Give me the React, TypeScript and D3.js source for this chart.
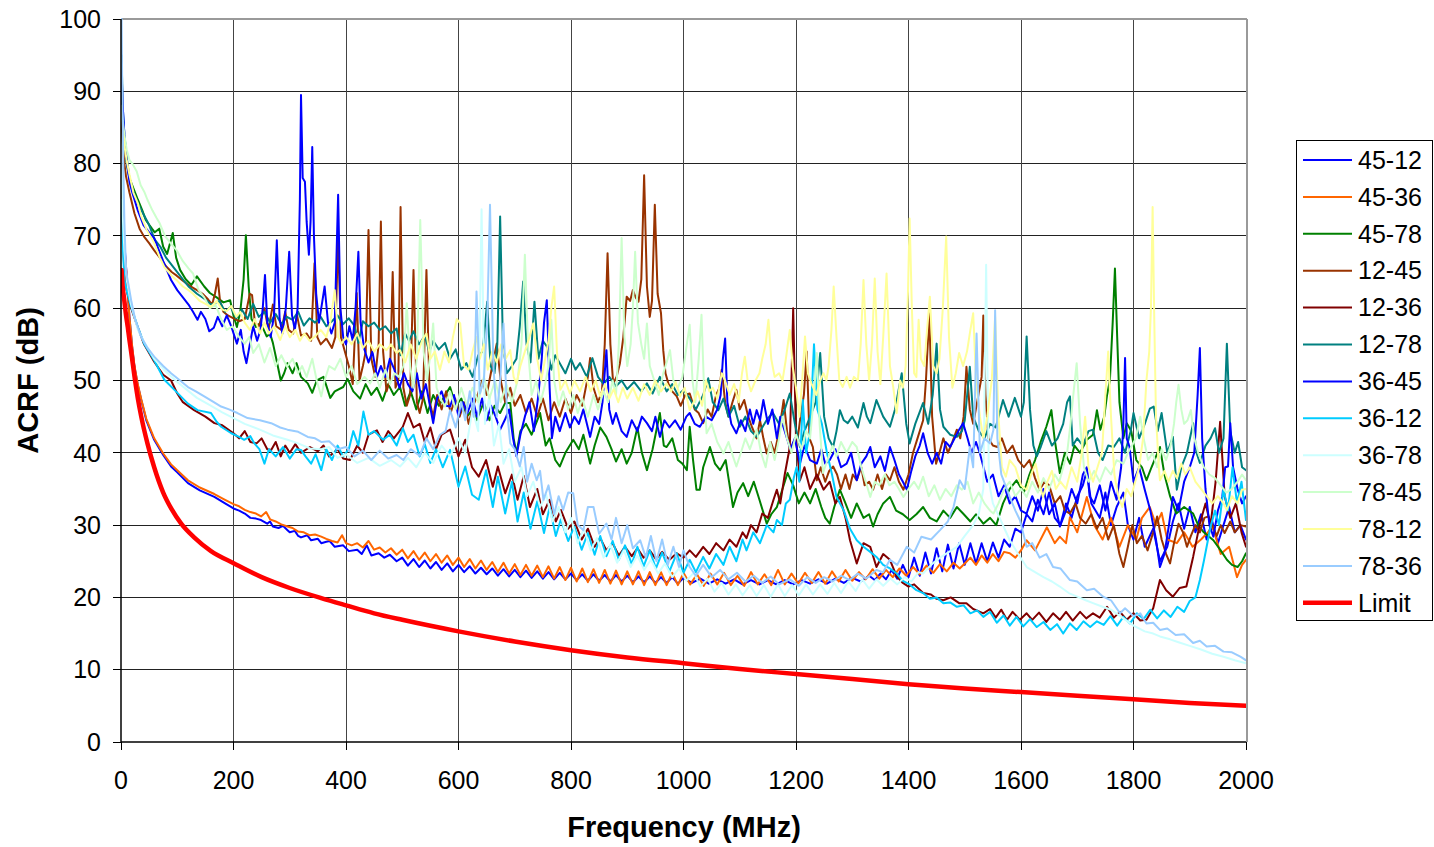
import React, { useEffect } from 'react';
import * as d3 from 'd3';

const W = 1434;
const H = 847;
const PLOT = { left: 121, right: 1246, top: 19, bottom: 742 };

const X_TICKS = [0, 200, 400, 600, 800, 1000, 1200, 1400, 1600, 1800, 2000];
const Y_TICKS = [0, 10, 20, 30, 40, 50, 60, 70, 80, 90, 100];

// each array: frequency (MHz), ACRF (dB) pairs
const s4512 = [1,77, 3,72, 6,69, 9,65.7, 12,62, 15,58.8, 20,54.5, 24,51.9, 30,49.3, 36,47.3, 45,44.5, 59,41.8, 75,39.7, 89,38.1, 100,37.3, 119,35.8, 140,34.8, 166,33.9, 185,33, 200,32.3, 210,32, 220,31.6, 230,31, 240,30.9, 249,30.7, 260,30.2, 265,30.5, 270,29.8, 280,29.6, 288,29.9, 296,29.3, 300,29, 309,29.2, 315,28.5, 320,28.3, 331,28.6, 338,27.9, 350,28.1, 356,27.5, 365,27.7, 371,27.8, 380,27, 395,27.2, 405,26.4, 420,26.6, 428,26, 437,27.2, 445,25.8, 458,26.1, 468,25.5, 478,25.9, 490,25, 500,25.5, 510,24.4, 520,25.3, 530,24.2, 540,25.1, 550,24, 560,24.9, 570,23.8, 580,24.7, 590,23.6, 600,24.5, 610,23.5, 620,24.3, 630,23.3, 640,24.1, 650,23.2, 660,24, 670,23, 680,23.9, 690,22.9, 700,23.8, 710,22.8, 720,23.7, 730,22.7, 740,23.6, 750,22.6, 760,23.5, 770,22.5, 780,23.4, 790,22.5, 800,23.3, 810,22.4, 820,23.2, 830,22.3, 840,23.2, 850,22.3, 860,23.1, 870,22.2, 880,23.1, 890,22.2, 900,23, 910,22.1, 920,22.9, 930,22.1, 940,22.9, 950,22, 960,22.8, 970,22, 980,22.8, 990,21.9, 1000,22.7, 1015,22, 1030,22.6, 1045,21.9, 1060,22.5, 1075,21.9, 1090,22.5, 1105,21.8, 1120,22.4, 1135,21.8, 1150,22.4, 1165,21.8, 1180,22.4, 1195,21.8, 1210,22.4, 1225,21.9, 1240,22.5, 1255,21.9, 1270,22.6, 1285,22, 1300,22.7, 1315,22.2, 1330,23, 1340,22.4, 1350,23.3, 1360,22.5, 1370,23.8, 1380,22.6, 1390,24.5, 1400,22.8, 1410,25.5, 1420,23, 1430,26.2, 1440,23.3, 1450,26.8, 1460,23.6, 1470,27.3, 1480,24, 1490,27.5, 1500,24.5, 1510,27.5, 1520,24.7, 1530,27.5, 1540,25, 1550,27.6, 1560,25.5, 1570,28, 1580,27, 1590,29.5, 1600,29, 1610,31.5, 1620,30.5, 1630,33.5, 1640,31.5, 1650,34.5, 1660,31, 1670,30, 1680,33, 1690,31, 1700,34, 1710,35.5, 1717,37.5, 1725,33, 1740,31, 1750,34.5, 1760,30, 1770,32.5, 1782,34.5, 1790,30, 1800,28, 1810,31, 1820,27, 1835,29.5, 1847,25, 1860,27, 1870,30.5, 1880,33, 1890,29.5, 1900,32.5, 1910,29, 1920,31.5, 1930,28, 1940,30.5, 1950,27.5, 1960,30, 1970,32.5, 1980,29, 1990,30, 2000,28];

const s4536 = [1,76, 3,71, 6,68.5, 9,65.5, 12,61.8, 15,58.8, 20,54.6, 24,52, 30,49.4, 36,47.4, 45,44.7, 59,42, 75,39.9, 89,38.4, 100,37.6, 119,36.2, 140,35.2, 166,34.3, 185,33.5, 200,32.9, 210,32.6, 220,32.1, 230,31.8, 240,31.6, 249,31.2, 258,31.8, 265,30.8, 275,30.5, 285,30.1, 296,29.8, 305,29.6, 315,29.1, 325,29, 335,28.6, 345,28.7, 356,28.4, 365,28.1, 375,27.8, 385,27.6, 393,28.6, 400,27.5, 410,27.2, 420,27.5, 430,26.9, 440,27.8, 450,26.6, 460,26.9, 470,26.2, 480,26.8, 490,25.9, 500,26.6, 510,25.4, 520,26.4, 530,25.2, 540,26.2, 550,25, 560,26, 570,24.8, 580,25.8, 590,24.5, 600,25.5, 610,24.2, 620,25.3, 630,24, 640,25.1, 650,23.8, 660,24.9, 670,23.5, 680,24.8, 690,23.3, 700,24.6, 710,23.1, 720,24.5, 730,23, 740,24.4, 750,22.8, 760,24.3, 770,22.6, 780,24.2, 790,22.4, 800,24.1, 810,22.2, 820,24, 830,22.1, 840,23.9, 850,22, 860,23.8, 870,21.9, 880,23.7, 890,21.8, 900,23.6, 910,21.8, 920,23.6, 930,21.7, 940,23.5, 950,21.7, 960,23.5, 970,21.7, 980,23.4, 990,21.7, 1000,23.4, 1012,21.8, 1024,23.2, 1036,21.6, 1048,23.3, 1060,21.8, 1072,23.4, 1084,21.7, 1096,23, 1108,21.6, 1120,23.5, 1132,21.8, 1144,23.2, 1156,21.7, 1168,23.8, 1180,21.8, 1192,23.3, 1204,21.9, 1216,23.4, 1228,22, 1240,23.5, 1252,21.9, 1264,23.6, 1276,22.2, 1288,23.8, 1300,22.3, 1312,23.5, 1324,22.5, 1336,23.9, 1348,22.6, 1360,23.8, 1372,22.8, 1384,24, 1396,23, 1408,24.2, 1420,23.2, 1432,24.4, 1444,23.4, 1456,24.6, 1468,23.6, 1480,24.8, 1491,24, 1500,24.7, 1510,25.5, 1520,24.5, 1530,25.8, 1540,24.8, 1550,26, 1560,25, 1570,26.3, 1580,26.1, 1590,25.5, 1600,26.5, 1610,27.9, 1625,26.5, 1646,29.7, 1660,27.5, 1669,28.4, 1680,27.5, 1687,31.1, 1700,29, 1717,33.9, 1730,30, 1745,28, 1760,31, 1775,27, 1790,30, 1805,28, 1815,31, 1829,32.5, 1840,30, 1850,31.7, 1860,28, 1877,27.5, 1890,29, 1905,27, 1920,28, 1941,29.7, 1955,26, 1970,27, 1984,22.8, 1993,24.5, 2000,25.2];

const s4578 = [1,90, 3,86, 6,83, 10,80, 15,78, 20,77, 30,75, 38,73.5, 44,72.2, 55,71, 60,70.5, 68,71, 75,68.5, 82,67.5, 92,70.4, 98,67, 105,65.3, 115,64, 125,63.2, 135,64.4, 148,63, 158,62.1, 170,61.5, 182,60.8, 194,61.1, 200,59, 206,57.4, 212,59.5, 218,64, 222,70.1, 227,63, 232,58.5, 240,57.4, 248,58, 259,56.1, 265,56.5, 270,55.2, 276,53, 284,50, 290,51, 296,52.4, 305,51, 312,52.4, 320,50.5, 332,49.6, 340,48.3, 348,50, 360,50.5, 372,47.6, 380,48.5, 395,49.1, 403,50.2, 413,48.5, 425,47.5, 435,49.5, 445,48, 455,49, 465,47.2, 475,49.5, 485,48, 496,49.1, 505,46.5, 515,48.5, 525,46, 535,48.5, 545,45.5, 555,48, 565,46.5, 575,47.8, 585,49.1, 595,46.5, 605,47.5, 615,45, 625,46, 632,44.5, 645,47, 655,44.5, 664,46.5, 674,45.5, 683,46.9, 692,46.9, 698,42, 703,39.9, 710,43, 720,44, 730,42.5, 745,45.5, 755,41, 762,42, 772,39, 780,38.1, 790,40, 804,41.8, 814,40.5, 822,42.5, 834,38.5, 842,41, 852,43.5, 863,42.2, 872,40.5, 880,38.8, 890,40.5, 899,38.5, 908,40, 918,43.5, 926,40, 935,37.6, 945,40.5, 958,45.5, 965,41, 970,40.8, 980,42, 990,39, 998,38.5, 1006,37.6, 1011,43.6, 1017,39, 1023,34.9, 1029,34.9, 1035,38, 1047,40.8, 1056,38.5, 1065,37.6, 1075,39, 1082,35.5, 1088,32.5, 1096,34.5, 1106,35.8, 1115,34, 1125,36, 1135,33.5, 1148,30.2, 1156,31.5, 1166,32.5, 1176,35, 1185,37.2, 1195,35.5, 1205,33, 1215,34.5, 1225,33, 1235,35, 1245,32.5, 1252,31, 1260,30.2, 1268,32.5, 1278,34.9, 1288,33, 1298,31, 1308,33, 1320,31, 1330,31.5, 1337,29.8, 1345,31.5, 1355,33, 1367,33.9, 1378,32, 1390,31.5, 1402,30.7, 1414,31.5, 1426,32.5, 1438,31, 1450,30.5, 1462,32, 1474,31, 1486,32.5, 1497,31.6, 1510,30.5, 1520,31.5, 1533,30.2, 1545,31, 1556,30, 1568,33, 1580,35, 1592,36.2, 1605,34.5, 1615,37, 1625,39, 1635,41.5, 1645,43.6, 1654,45.9, 1660,41.8, 1669,37.2, 1678,40, 1687,38.5, 1695,41, 1705,40, 1717,41.8, 1728,42.5, 1735,45.9, 1741,43.2, 1748,45, 1753,48, 1758,50, 1763,58, 1767,65.5, 1771,56, 1775,47, 1782,42, 1788,44.1, 1796,43, 1805,39, 1815,38, 1823,36.2, 1832,38, 1840,39.5, 1847,40.8, 1855,37, 1865,34, 1876,31.6, 1890,32.5, 1906,31.6, 1915,30, 1925,29, 1942,27.9, 1955,26.5, 1966,25.2, 1975,24.5, 1985,24.2, 1993,25, 2000,26.1];

const s1245 = [1,86, 3,83, 6,80, 9,78.2, 15,76, 24,73.1, 33,71, 41,69.9, 50,69, 59,68, 69,67, 80,65.8, 90,65, 99,64.5, 110,63.8, 120,63.2, 135,62.5, 145,62, 155,61.2, 162,60.5, 167,62, 172,64.1, 176,61, 182,59.5, 190,59, 200,58.6, 210,58.2, 220,58.5, 229,62, 233,61.8, 238,58, 245,57.5, 255,60, 262,57, 270,60.5, 276,57.5, 285,57, 292,59.5, 298,57, 306,56.5, 313,59, 320,56.2, 330,56.5, 338,55.5, 344,66.2, 349,56, 355,55, 365,55.8, 375,54.5, 381,56, 386,69.9, 391,56, 398,54, 405,52, 412,49.5, 419,62.1, 424,50, 430,52, 435,54, 440,70.8, 445,53, 452,50.5, 458,55, 462,72, 466,54, 472,48.5, 478,50, 483,65, 488,49, 493,50, 497,74, 502,49, 508,46.5, 514,48, 520,65.3, 526,47, 531,45.5, 537,47.5, 543,65.3, 549,47, 555,45, 562,48, 570,46, 578,48.5, 586,45.5, 594,47.5, 602,45, 610,47, 618,44, 626,46.5, 634,48, 642,50, 650,48, 660,52, 668,55.1, 675,50, 683,47, 692,49, 700,46.5, 710,48, 720,45.5, 730,47.5, 740,45, 750,47.5, 760,44.5, 770,47, 780,45, 790,47.5, 800,45.5, 810,48, 820,46.5, 830,50.5, 834,53.1, 840,49, 848,47, 855,48.5, 860,55, 865,67.6, 870,55, 875,49.6, 881,50.5, 887,52.4, 893,56, 899,61.6, 905,61, 910,62.5, 915,61.5, 920,60.9, 925,64, 930,78.4, 935,63, 940,58.8, 944,61, 949,74.3, 954,62, 960,59.3, 964,54.2, 968,51, 973,49.6, 980,48.5, 988,47.8, 995,46.5, 1003,48, 1011,48.2, 1020,46, 1027,45.5, 1035,44.1, 1043,46, 1050,45, 1058,48, 1064,49, 1068,51.5, 1074,47, 1080,45, 1087,47, 1094,48.7, 1100,46, 1108,47.3, 1115,45, 1122,43.5, 1130,42, 1136,44.5, 1142,42, 1148,39.9, 1155,41.5, 1162,40, 1170,43, 1178,47.3, 1184,43, 1190,40, 1196,41.5, 1203,42, 1208,45, 1214,48, 1219,54, 1224,42, 1230,40.8, 1237,36.2, 1244,38, 1252,36, 1259,37.5, 1266,38.1, 1273,37, 1280,35, 1288,37, 1295,35, 1301,37, 1308,36.2, 1316,38, 1322,35.5, 1330,36, 1337,34.9, 1345,37, 1353,35, 1360,37, 1367,36.2, 1375,38, 1383,36, 1391,34.9, 1400,37, 1408,40, 1416,42, 1426,44.5, 1431,50, 1437,59.3, 1442,45, 1449,38.5, 1455,40, 1462,42, 1470,40, 1478,41.5, 1486,43.2, 1492,42, 1498,45, 1503,51.9, 1509,46, 1515,44, 1522,47, 1530,50.5, 1533,59, 1537,48, 1542,42, 1550,41, 1558,40.8, 1566,42, 1575,40, 1585,41, 1595,39, 1605,38, 1615,39, 1625,36.5, 1633,34.9, 1642,36, 1650,35.5, 1660,33, 1670,34, 1678,32, 1687,31.6, 1697,33, 1705,31, 1715,30.2, 1725,31.5, 1735,29.5, 1745,31, 1755,28, 1765,30, 1775,26, 1782,24.2, 1790,27, 1798,30, 1806,27.5, 1815,28.5, 1825,26.5, 1835,29, 1842,31.2, 1850,28, 1858,26, 1865,24.7, 1872,27.5, 1880,30.2, 1888,29, 1895,27, 1902,28.5, 1910,30, 1918,29, 1926,31, 1933,31.2, 1940,30, 1948,28.5, 1955,30, 1962,28.9, 1972,30.5, 1980,29, 1990,30, 2000,29.8];

const s1236 = [1,77, 3,70, 6,65, 10,62.5, 18,60, 30,57.3, 41,55, 59,52.6, 75,50.8, 89,50, 100,48.2, 110,47, 130,45.9, 150,45, 166,44.1, 180,43.8, 200,42.7, 210,42, 220,43, 230,41.5, 241,41.3, 250,42, 260,40.5, 267,40.4, 275,41.5, 284,39.5, 292,41, 300,40, 310,41.2, 320,40, 336,40.8, 350,40.2, 360,41, 370,39.5, 385,40.5, 395,39.2, 407,39, 420,41, 430,40, 440,42.5, 455,43.1, 465,41.5, 475,43, 485,42, 501,43.6, 510,45.5, 520,43.5, 531,44, 540,41.5, 550,43.5, 560,40.5, 570,42.5, 585,43.2, 600,39.5, 612,41.8, 624,38, 636,36.7, 649,39, 661,35.3, 670,38.1, 683,34.4, 695,37, 705,33.5, 716,36.8, 727,32.5, 740,35, 750,31.5, 762,33.5, 773,30.5, 782,32.1, 795,29.5, 806,30.5, 819,28, 830,29.5, 842,27, 852,28.2, 863,26.5, 874,27.5, 885,25.8, 896,27, 908,25.7, 918,26.8, 929,25.5, 940,26.5, 951,25.3, 962,26.3, 975,25.2, 988,26.1, 1000,25.5, 1011,26.5, 1022,25.6, 1035,27, 1046,26, 1058,27.5, 1071,26.5, 1082,28, 1094,27, 1105,29, 1112,28.2, 1120,30, 1130,29, 1140,31.6, 1150,31, 1160,33.5, 1166,34.9, 1172,33, 1180,37, 1189,40.8, 1195,60, 1200,42, 1207,36.2, 1215,38, 1225,35, 1237,37, 1249,34.9, 1260,36, 1270,33, 1278,33.9, 1288,31, 1296,27.9, 1308,24.7, 1320,27.5, 1332,27, 1343,24.2, 1355,26, 1367,25.2, 1379,22.9, 1390,22, 1400,21.5, 1410,21.8, 1426,20.6, 1440,20.4, 1450,19.8, 1462,19.6, 1475,20, 1490,19.2, 1503,19.2, 1515,18.4, 1533,17.8, 1545,18.4, 1555,17.2, 1565,18.3, 1575,16.9, 1585,18, 1598,16.9, 1610,17.8, 1620,16.9, 1632,17.9, 1645,16.6, 1657,17.8, 1669,16.9, 1680,18, 1692,16.8, 1705,18, 1716,17.1, 1728,17.8, 1740,17.2, 1753,18.7, 1765,17.2, 1776,18, 1788,16.9, 1800,17.8, 1812,16.8, 1823,16.9, 1835,18.5, 1847,22.4, 1858,21, 1870,20.1, 1882,21.3, 1894,21.5, 1906,25.6, 1918,30.2, 1928,33, 1937,30, 1946,36, 1954,44.3, 1962,34, 1972,31, 1982,33, 1992,29, 2000,27];

const s1278 = [1,95, 3,88, 6,84, 10,81, 15,78, 20,76.5, 30,74.5, 40,73, 50,71.5, 60,69.5, 70,68.5, 80,67, 90,66, 100,65, 110,64, 120,63, 135,62, 150,61.2, 160,60.5, 175,61, 185,59.5, 195,60.2, 205,58.6, 215,59.8, 225,58.5, 235,60.6, 245,58.8, 255,59.5, 265,58, 275,59.2, 285,57.8, 295,58.8, 305,58.4, 315,59.5, 325,57.6, 335,58.6, 345,58, 355,58.8, 365,57.5, 375,58.2, 385,59, 395,57.8, 405,58.6, 415,57.6, 422,55.2, 430,58.2, 440,57.5, 450,58, 460,57, 470,57.5, 480,56.5, 490,57.2, 497,53.5, 505,56.5, 512,55.5, 520,56.8, 530,55, 540,56.2, 548,54, 555,55.5, 565,54.3, 576,55.2, 585,53, 595,54.3, 605,51.5, 614,52.4, 625,50.5, 635,53.5, 643,54, 651,60.9, 657,52, 664,51, 669,55, 674,72.7, 679,55, 686,51, 695,52, 703,53, 709,57.5, 715,63.7, 721,55, 728,52.5, 735,60.9, 742,53, 750,55.5, 757,54.7, 765,51.5, 772,53.5, 780,52.4, 790,51, 800,53, 808,51.5, 816,52.4, 828,50.5, 838,53.1, 848,50.5, 858,49.5, 868,50.5, 880,49.2, 890,50, 900,48.8, 912,49.8, 925,48.5, 935,49.6, 945,48.2, 958,50.5, 970,48.5, 980,49.5, 990,48, 1000,48.7, 1011,47.5, 1022,46, 1035,48, 1044,50.3, 1052,47, 1062,45.9, 1071,47.5, 1080,45, 1090,46.5, 1100,43.6, 1110,45, 1120,43, 1130,42.2, 1140,43.5, 1150,44.8, 1159,45.5, 1170,44, 1180,46, 1189,48.2, 1198,44, 1207,40.8, 1215,43, 1225,45, 1235,47, 1243,53.8, 1250,45, 1258,42, 1266,40.8, 1272,43, 1278,45.9, 1285,44.5, 1292,44.1, 1300,45, 1310,43.5, 1320,46.9, 1326,45, 1332,44.1, 1343,47.3, 1355,45, 1367,43.6, 1376,46, 1388,51, 1396,44, 1402,41.3, 1412,44, 1426,46.9, 1435,44, 1443,48, 1450,55.1, 1456,46, 1462,43.6, 1474,42.5, 1486,42.2, 1495,43, 1500,44.5, 1509,51.9, 1515,45, 1525,43, 1535,42, 1545,44, 1555,43.5, 1568,47.3, 1578,45, 1589,47.6, 1600,45, 1605,47, 1610,56.1, 1616,46, 1622,41, 1628,39.5, 1635,40.8, 1645,43, 1655,41, 1665,42, 1675,44, 1682,47, 1687,47.8, 1692,41, 1700,42, 1710,41, 1720,43, 1728,43.2, 1737,40, 1745,39, 1755,41, 1765,40.8, 1775,42, 1785,40, 1795,43, 1800,45.5, 1810,42, 1820,44, 1829,46.1, 1836,46.4, 1843,43, 1850,45.5, 1860,40, 1870,42.2, 1877,34.9, 1885,38, 1895,40, 1906,44.1, 1912,40, 1918,38.6, 1928,41, 1937,42, 1945,43.4, 1952,40, 1960,42, 1966,55.1, 1972,43, 1980,40, 1986,41.5, 1993,38, 2000,37.6];

const s3645 = [1,93, 3,88, 6,84, 10,80.5, 15,77.5, 20,76, 30,73.5, 40,71.5, 50,70.5, 59,69.7, 75,66.5, 89,63.9, 100,62.5, 110,61.5, 120,60.5, 128,59.5, 136,58.4, 142,59.5, 150,58.5, 157,56.8, 165,57.3, 172,58.8, 180,57.5, 188,59, 196,57.5, 206,55.1, 213,57, 218,54, 223,52.4, 229,55, 235,57.5, 242,55.5, 248,57, 252,60, 256,64.6, 260,58, 266,56, 272,59, 277,69.4, 282,58.5, 287,56.5, 293,60, 299,67.8, 304,59, 309,57, 314,60, 318,75, 320,89.5, 323,78, 327,77.5, 330,72, 334,67.4, 337,72, 340,82.3, 343,70, 347,62, 352,58, 357,60.5, 362,63, 368,58, 374,56.5, 380,58, 386,75.7, 390,60, 395,56, 400,55, 406,57.5, 412,55.5, 417,60, 422,67.8, 426,58, 432,54.5, 440,52.5, 447,54, 455,50.5, 462,52, 470,50.5, 478,53, 486,51.5, 495,49, 503,51, 510,49.5, 518,48.5, 526,51, 534,47.5, 542,49.5, 548,47, 555,44.1, 562,47.5, 570,48.5, 578,46.5, 585,46.4, 592,48, 600,45, 608,47, 616,45.5, 625,47.5, 633,45, 642,47.5, 650,44.5, 658,46.5, 666,45, 674,43.2, 682,44.5, 690,46, 697,42, 703,39.5, 710,42.5, 718,45, 726,47, 734,43, 742,48, 748,53, 752,58, 757,61.1, 762,49, 766,42, 772,45, 780,43, 790,45.5, 798,43.5, 806,45, 814,44, 822,46, 834,42.2, 842,45, 850,44, 856,47, 863,54.2, 868,46, 874,44, 880,45.5, 890,43, 899,42.2, 908,44.5, 918,43, 926,45, 935,44.1, 944,43, 950,45, 958,42.2, 966,44.5, 975,43.5, 985,44.5, 995,43.2, 1005,45, 1011,45.5, 1020,44, 1029,43.6, 1040,45, 1050,44.5, 1060,46, 1066,48, 1070,53, 1074,55.8, 1078,47, 1085,44, 1094,42.7, 1102,44.5, 1110,43, 1118,46, 1124,44, 1130,45.9, 1136,44.5, 1142,47.3, 1150,44, 1158,46, 1166,42, 1172,45, 1180,43, 1190,40.5, 1198,42, 1207,38.5, 1215,41, 1225,39, 1237,38.5, 1245,40.5, 1252,38.5, 1260,39, 1270,40.5, 1280,38, 1290,38.5, 1298,40, 1308,36.2, 1316,38.5, 1325,39.5, 1332,40.8, 1340,38, 1350,39.5, 1358,37.5, 1367,40.8, 1375,39, 1383,37, 1390,36, 1397,34.9, 1405,37.5, 1412,39.5, 1420,41, 1426,42.7, 1434,40, 1442,38.5, 1450,40, 1458,38.5, 1466,41.5, 1474,40.8, 1482,42, 1490,43.2, 1497,44.1, 1505,42, 1512,40, 1520,41.5, 1527,39.9, 1533,38.1, 1540,36, 1550,37, 1560,34, 1570,35.5, 1580,33, 1590,34, 1600,32, 1610,31.6, 1620,34, 1630,32, 1640,35, 1650,31.5, 1660,33, 1669,29.8, 1680,32, 1690,35, 1700,33, 1710,37, 1717,38, 1722,34, 1730,33, 1740,35.5, 1750,32, 1760,36, 1770,33.5, 1778,38, 1782,44, 1785,53.1, 1788,42, 1793,40.8, 1800,36, 1810,38, 1820,34.9, 1830,32, 1840,28, 1847,24.2, 1855,26, 1863,30, 1870,33.9, 1880,32, 1890,36, 1900,38, 1908,40, 1914,48, 1918,54.5, 1922,42, 1928,35, 1935,30, 1942,28.4, 1950,32, 1958,34, 1963,38, 1968,38.1, 1972,44.1, 1977,38, 1985,35, 1993,33, 2000,34];

const s3612 = [1,75, 3,69, 6,64, 10,62.5, 18,60.2, 30,57.4, 41,55.1, 59,52.8, 77,50.1, 95,48.7, 119,46.8, 136,45.9, 160,45.5, 170,44.3, 178,43.6, 196,42.7, 210,42.2, 219,41.8, 230,42.3, 237,41.3, 246,40.5, 255,38.5, 263,40.5, 275,39.5, 288,40.8, 300,39.2, 312,40.5, 320,40.4, 328,39.5, 338,38.5, 346,39.8, 356,37.6, 365,40.5, 375,39, 385,41, 395,39.5, 405,40.5, 413,43, 422,41, 431,45.7, 440,42.5, 450,43, 466,41.8, 478,42.5, 490,41, 501,43.4, 510,41.5, 520,42.5, 531,39.5, 540,41.2, 550,38.6, 560,40.5, 572,38, 585,40.4, 600,35.3, 612,38.1, 624,34.2, 636,33.5, 649,37.6, 661,32.5, 670,36.7, 683,31.6, 695,36, 705,30.5, 716,34.5, 728,29.5, 740,33.3, 752,28.9, 762,32.5, 773,28.5, 782,30.8, 795,27.8, 806,29.8, 819,26.6, 830,28.9, 842,25.9, 852,28.5, 863,25.7, 874,27.8, 885,25.2, 896,27.2, 908,24.6, 918,27, 929,24.3, 940,26.5, 951,24, 962,26.2, 975,23.6, 988,26.1, 1000,23.4, 1011,25.2, 1022,23.5, 1035,25.6, 1046,24, 1058,26, 1071,24.5, 1082,27, 1094,25, 1105,28, 1112,26.5, 1124,29, 1136,27.5, 1148,30, 1160,29, 1166,30.7, 1175,30, 1182,33, 1189,33.5, 1196,36.5, 1201,38, 1206,36, 1212,47.3, 1218,40, 1225,43, 1232,55, 1238,46, 1246,44, 1255,40, 1264,37, 1272,33.9, 1285,32, 1296,29.5, 1308,27.9, 1320,27, 1332,26.3, 1343,25.6, 1355,24.5, 1367,24, 1379,23.3, 1390,22.3, 1402,21.8, 1414,21, 1426,20.6, 1438,19.8, 1450,20, 1462,19.2, 1474,19.3, 1486,18.7, 1498,18.9, 1510,17.8, 1522,18.2, 1533,17.3, 1545,18, 1557,16.5, 1569,17.5, 1580,16.1, 1592,17.3, 1604,16, 1616,17, 1628,15.9, 1640,16.6, 1652,15.5, 1664,16.3, 1675,15, 1687,16.4, 1699,15.5, 1711,16.7, 1723,15.9, 1735,16.7, 1747,16.2, 1759,17.4, 1771,16.1, 1782,17.3, 1794,16.4, 1806,17.8, 1818,17, 1830,18.3, 1842,17.1, 1854,18.2, 1866,17.3, 1878,18.7, 1890,18, 1900,19.5, 1910,20, 1918,22.4, 1925,25, 1930,27, 1937,29.8, 1945,32, 1952,30, 1960,35, 1968,32, 1976,38, 1984,33, 1992,36, 2000,30.7];

const s3678 = [1,80, 3,73, 6,68, 10,64, 18,60.5, 30,57, 40,55.5, 59,53, 80,51.2, 100,49.8, 119,48.6, 135,47.6, 158,46.6, 180,45.6, 200,44.8, 220,44, 247,43.2, 270,42.4, 296,41.8, 315,41.3, 336,40.6, 356,40.5, 370,40.8, 385,39.3, 400,39.8, 420,38.6, 440,39.3, 460,38.2, 480,39, 496,38.1, 510,39.3, 525,38, 540,40, 555,38.6, 570,41, 585,39.5, 600,42, 612,40, 625,46, 635,43, 641,73.7, 647,44, 655,48, 663,41, 672,44, 680,38.5, 690,40.5, 700,36, 712,38, 722,34, 733,36, 745,32.5, 756,34.2, 767,30.5, 778,32.5, 790,29, 800,31, 812,27.5, 823,29.5, 835,26.5, 846,28.2, 858,25.5, 870,27.3, 882,24.8, 894,26.5, 906,24.2, 918,25.8, 930,23.8, 942,25.2, 955,23.3, 967,24.7, 980,22.8, 992,24, 1005,22.3, 1018,23.4, 1030,21.5, 1043,22.6, 1055,20.8, 1068,22, 1080,20.4, 1093,21.8, 1105,20.3, 1118,21.7, 1130,20.2, 1143,21.7, 1155,20.1, 1168,21.8, 1180,20.2, 1193,21.7, 1205,20.3, 1218,21.8, 1230,20.4, 1243,21.8, 1256,20.5, 1268,22, 1280,20.6, 1293,22.2, 1306,20.9, 1318,22.5, 1330,21.2, 1343,22.5, 1355,21.6, 1368,22.6, 1380,21.8, 1393,22.8, 1405,22.2, 1418,23.5, 1426,23.3, 1440,24.5, 1456,25.5, 1470,26.2, 1486,27, 1500,28.5, 1515,30, 1525,31.6, 1533,35, 1538,66, 1543,36, 1550,33, 1565,30.5, 1580,27.9, 1595,26, 1610,24.2, 1625,23.5, 1640,22.8, 1655,22.2, 1669,21.5, 1685,20.6, 1700,20.1, 1715,19.6, 1728,19.2, 1745,18.7, 1760,18.3, 1780,17.2, 1800,16.1, 1820,15.3, 1835,15, 1847,14.6, 1865,14.2, 1880,13.8, 1900,13.3, 1920,12.8, 1940,12.2, 1960,11.8, 1980,11.3, 2000,10.9];

const s7845 = [1,88, 3,86, 6,84, 10,82, 15,80.5, 20,80, 28,78.9, 35,77, 42,76, 47,75, 56,73.5, 63,72.5, 69,71.7, 78,70, 88,69, 99,68, 110,66.5, 120,65.5, 128,64.8, 138,62.5, 148,61.5, 158,60, 168,60.5, 178,58.5, 188,57, 198,57.5, 210,56, 220,55.1, 228,56, 235,53.8, 245,55, 255,52.5, 265,54.5, 275,52, 285,53.5, 295,51.9, 305,53, 315,51, 322,52, 330,50.5, 340,53, 348,50, 356,47.8, 362,50, 370,52, 380,51.5, 390,53, 400,50.5, 410,52, 420,49.5, 433,50.5, 443,49.6, 452,51, 460,49, 470,51.5, 478,49.5, 486,51, 494,50.5, 502,52, 508,60.7, 514,52, 520,49, 526,53, 532,72.2, 538,54, 544,50, 549,53, 555,57.9, 561,49, 568,47.5, 576,46.4, 585,48.5, 595,46, 605,49, 615,46.5, 625,49, 635,47, 645,50.5, 655,47.5, 665,50, 675,47, 685,49.5, 695,47, 705,50, 712,55, 718,67.4, 724,54, 730,48, 738,50, 746,47, 754,49.5, 760,52, 765,58.4, 770,50, 778,46.5, 786,48.5, 795,46, 804,48, 812,45.5, 820,47.5, 830,45, 840,48, 848,46, 858,48.5, 866,47, 874,50, 880,48, 885,55, 890,69.7, 895,56, 900,52, 906,55, 910,60, 914,67.8, 919,58, 925,55, 930,53, 935,57.9, 940,52, 948,50, 956,48, 964,51, 970,52.5, 976,54.2, 982,50, 990,49, 998,50.5, 1004,54, 1011,57.7, 1016,50, 1021,47, 1027,53, 1032,59.1, 1036,50, 1041,42.7, 1050,44, 1060,41.5, 1071,39.9, 1080,41.5, 1088,39.5, 1094,38.1, 1102,40, 1110,42, 1118,40.5, 1130,43.2, 1138,40, 1146,38, 1154,41.5, 1162,39, 1170,42, 1176,45, 1184,42, 1192,40, 1200,42.5, 1210,40.5, 1218,43, 1225,42, 1232,48, 1237,53.8, 1242,44, 1248,37.2, 1256,39, 1265,41, 1272,39.5, 1280,41.5, 1290,40, 1300,41.5, 1308,40.8, 1316,38, 1324,36, 1332,33.9, 1340,36, 1348,35.5, 1358,37, 1366,35.5, 1375,36, 1383,35, 1391,33.9, 1400,35, 1410,36, 1418,35, 1426,36.7, 1436,34, 1446,35.5, 1456,33.5, 1466,35, 1476,34, 1486,35.5, 1495,34.9, 1505,36, 1515,33, 1525,34.5, 1535,33, 1545,32, 1551,31.6, 1560,33, 1570,35, 1580,36, 1590,34, 1600,35, 1610,33.9, 1620,36, 1630,34.5, 1640,36.5, 1650,35, 1660,37, 1668,36, 1675,38, 1682,40, 1688,44, 1693,48, 1699,52.4, 1705,44, 1712,38, 1720,36, 1730,37.5, 1740,36, 1750,38, 1760,37, 1770,39, 1782,38.5, 1790,40, 1796,40.8, 1804,42, 1812,45, 1818,42, 1826,39, 1834,40, 1842,38, 1850,40.5, 1858,39, 1866,41, 1872,44, 1876,47, 1880,49.4, 1885,46, 1890,44, 1896,44.5, 1902,45.9, 1908,42, 1915,40, 1925,38, 1935,37, 1945,36.5, 1955,35.5, 1965,34.5, 1975,35, 1985,36, 1993,37, 2000,36.2];

const s7812 = [1,87, 3,85, 6,82.5, 10,80.5, 15,78.5, 22,76, 30,74.5, 36,72.7, 46,70.8, 59,69, 69,67, 77,65.7, 90,64.5, 100,63.8, 110,63, 120,62.5, 128,62, 140,61, 150,60.6, 160,60.2, 170,61, 180,59.8, 188,59.6, 196,60.3, 205,58.8, 212,59.5, 220,58, 229,57, 238,58.5, 247,56.5, 255,58, 263,56.5, 272,57.5, 283,55.6, 292,57.5, 300,56, 310,57, 318,55.5, 326,56.5, 335,55.5, 345,56.1, 355,57, 365,56, 372,58, 380,62.5, 386,56, 392,55.1, 400,56, 410,55, 420,56.5, 430,54.5, 440,55.5, 450,54, 460,55, 472,54.2, 480,55, 490,53.8, 496,54.2, 505,52.5, 515,55, 525,53, 535,55.5, 543,56.5, 550,53, 558,54, 567,51.5, 575,54, 583,52.5, 590,56, 597,58.5, 603,57.9, 610,52, 618,51.5, 625,54, 632,56, 638,53, 645,55, 652,51.5, 660,54, 668,52.5, 676,55, 684,53, 692,54.2, 698,50.5, 703,49.6, 710,52, 718,54, 726,56, 733,57.9, 740,53, 747,50, 754,53, 760,55.5, 765,60, 770,63, 775,54, 781,48.7, 790,50, 798,48.2, 806,50, 816,48.5, 826,50.5, 835,48.5, 844,50, 852,47.8, 860,49.5, 868,47.5, 876,48.8, 884,47, 892,49, 900,47.5, 910,49, 920,47.2, 930,49.5, 940,48, 950,50, 960,48.5, 970,49.6, 978,48.5, 986,49.8, 994,47.8, 1002,49, 1011,45.9, 1018,47, 1025,48.5, 1033,46.5, 1040,50, 1046,48.5, 1052,49, 1060,47.5, 1068,51, 1074,50, 1082,48, 1090,49.5, 1098,47, 1104,51, 1109,53.3, 1114,50, 1120,48.5, 1128,50, 1135,51, 1140,53, 1146,55, 1151,58.4, 1156,53, 1162,50.5, 1170,51, 1176,50, 1182,53, 1189,57, 1194,52, 1200,49, 1206,45, 1211,50, 1216,56.1, 1221,51, 1228,49.5, 1236,48, 1243,50, 1249,51, 1254,50, 1258,52, 1263,57, 1267,63, 1272,56, 1277,50, 1283,49.1, 1290,50.5, 1296,49, 1303,50.5, 1310,50, 1315,55, 1320,63.9, 1325,55, 1330,50, 1335,55, 1340,64.1, 1345,54, 1350,49.5, 1355,56, 1361,64.8, 1367,52, 1373,49, 1379,45.5, 1385,50, 1390,49, 1395,52, 1399,62, 1402,72.4, 1406,60, 1410,51, 1414,50.5, 1418,58.4, 1422,53, 1428,52, 1433,57, 1438,61.6, 1444,52, 1450,51, 1455,53, 1461,60, 1467,69.9, 1472,56, 1478,49, 1484,51, 1490,53.8, 1497,52, 1504,54, 1510,57, 1515,59.3, 1520,50, 1527,45, 1533,42, 1540,45, 1548,50, 1554,58.8, 1560,45, 1566,38, 1573,36.7, 1580,39, 1590,38, 1600,35.5, 1610,34.9, 1618,37, 1626,38.5, 1632,36, 1639,33.9, 1647,36, 1655,37.5, 1662,35, 1670,36, 1680,35, 1690,38, 1700,36, 1708,40, 1714,45, 1720,38, 1728,36, 1736,38, 1744,40, 1750,48, 1755,54, 1760,45, 1766,37, 1773,34, 1780,32.5, 1788,35, 1796,34, 1803,36, 1810,38, 1817,42, 1823,50, 1828,54, 1831,60, 1834,74, 1837,58, 1840,45, 1845,38, 1847,36.2, 1855,37.5, 1862,36, 1870,37.5, 1877,36.5, 1885,38.5, 1892,37, 1900,38, 1910,36, 1920,35, 1930,34, 1940,33, 1950,34, 1960,33, 1966,32.1, 1975,34, 1985,33, 1993,34.9, 2000,35];

const s7836 = [1,100, 2,92, 4,80, 6,72, 9,65, 13,63.4, 18,61.1, 25,58.5, 36,56, 47,54.5, 59,53.3, 75,52, 89,51, 105,50, 119,49.1, 133,48.5, 148,47.8, 165,47, 178,46.4, 192,46, 207,45.5, 225,44.8, 247,44.5, 267,44.1, 283,43.5, 296,43.2, 315,42.9, 332,42.2, 345,42, 356,41.5, 370,41.6, 385,40.5, 400,40.8, 415,39.5, 430,40.3, 445,39, 460,40.3, 475,39.2, 490,39.7, 502,39, 515,40.5, 531,39.6, 543,42, 555,40.5, 567,42.5, 577,43, 585,45.9, 595,43.5, 605,47, 612,44.5, 620,48.5, 627,45, 632,62.3, 638,48.2, 645,50, 651,58, 656,74.3, 662,52, 668,45, 674,50, 680,57.9, 686,46, 692,41.3, 700,40.5, 709,38.1, 716,40.8, 722,36, 730,38.5, 739,36.2, 745,37.5, 751,33.5, 760,35.5, 770,31.5, 778,34, 786,32.1, 795,34.5, 804,34.4, 812,30, 822,29.3, 830,32.5, 840,32.5, 850,28.8, 863,30.2, 872,28, 880,31, 890,27.5, 900,30, 910,26.8, 923,27.9, 933,25.5, 942,28.5, 952,25, 962,28, 972,24.5, 982,27, 992,24.2, 1000,26.5, 1011,24.2, 1022,23, 1035,24.5, 1050,22.8, 1065,23.8, 1080,22.5, 1095,23.4, 1110,22.2, 1125,23, 1140,22, 1155,22.9, 1170,21.8, 1189,22.5, 1205,21.6, 1220,22.8, 1235,22, 1250,22.8, 1265,22.2, 1280,23, 1295,22.4, 1310,23.3, 1325,22.6, 1343,23.8, 1355,23.5, 1367,25.2, 1380,24.5, 1397,27, 1410,26.2, 1423,28.4, 1440,28, 1456,29.3, 1470,30.5, 1480,32.5, 1491,36.2, 1500,35, 1509,40.8, 1515,38, 1521,56.5, 1527,40, 1535,42, 1545,41.3, 1551,43.2, 1554,59.7, 1558,42, 1565,37, 1580,33.9, 1590,32, 1598,30.7, 1610,27, 1620,27.5, 1633,25.5, 1645,26, 1657,24.2, 1670,24, 1687,22.4, 1700,22.2, 1717,21, 1730,21.2, 1746,20.1, 1760,19.6, 1776,17.8, 1785,18.5, 1800,17.4, 1812,17.8, 1823,16.4, 1835,16.5, 1847,15.5, 1860,15.7, 1875,14.8, 1890,14.9, 1906,13.7, 1918,14, 1930,13.2, 1945,13.3, 1960,12.5, 1975,12.4, 1990,11.8, 2000,11.3];

const sLimit = [1,65.3, 3,63, 6,61, 9,59, 12,57.4, 15,55.6, 18,54, 25,50, 30,47.5, 36,45, 47,41.3, 59,38, 75,34.5, 90,32.2, 107,30.2, 130,28.3, 160,26.4, 201,24.7, 250,22.8, 300,21.3, 356,19.9, 400,18.9, 450,17.8, 500,16.9, 600,15.3, 700,13.9, 800,12.7, 900,11.7, 1000,10.9, 1100,10.1, 1200,9.4, 1300,8.7, 1400,8, 1500,7.4, 1600,6.9, 1700,6.4, 1800,5.9, 1900,5.4, 2000,5];

const SERIES_NAMES = ['45-12', '45-36', '45-78', '12-45', '12-36', '12-78', '36-45', '36-12', '36-78', '78-45', '78-12', '78-36', 'Limit'];
const SERIES_COLORS = ['#0000FF', '#FF6600', '#008000', '#993300', '#800000', '#008080', '#0000FF', '#00CCFF', '#CCFFFF', '#CCFFCC', '#FFFF99', '#99CCFF', '#FF0000'];
const SERIES_DATA = [s4512, s4536, s4578, s1245, s1236, s1278, s3645, s3612, s3678, s7845, s7812, s7836, sLimit];

function toPairs(a: number[]): [number, number][] {
  const out: [number, number][] = [];
  for (let i = 0; i + 1 < a.length; i += 2) out.push([a[i], a[i + 1]]);
  return out;
}

const FONT = "'Liberation Sans', Arial, Helvetica, sans-serif";

export default function App() {
  useEffect(() => {
    document.body.style.margin = '0';
  }, []);

  const x = d3.scaleLinear().domain([0, 2000]).range([PLOT.left, PLOT.right]);
  const y = d3.scaleLinear().domain([0, 100]).range([PLOT.bottom, PLOT.top]);
  const line = d3
    .line<[number, number]>()
    .x((d) => x(d[0]))
    .y((d) => y(d[1]));
  const smoothLine = d3
    .line<[number, number]>()
    .x((d) => x(d[0]))
    .y((d) => y(d[1]))
    .curve(d3.curveMonotoneX);

  const legendX = 1296.5;
  const legendY = 140.5;
  const legendW = 136;
  const legendH = 480;
  const rowH = 36.9;

  return (
    <svg
      width={W}
      height={H}
      style={{ display: 'block', position: 'absolute', left: 0, top: 0 }}
      fontFamily={FONT}
    >
      <rect x={0} y={0} width={W} height={H} fill="#ffffff" />
      <defs>
        <clipPath id="plotClip">
          <rect x={PLOT.left} y={PLOT.top - 2} width={PLOT.right - PLOT.left} height={PLOT.bottom - PLOT.top + 2} />
        </clipPath>
      </defs>

      {/* gridlines */}
      {Y_TICKS.filter((t) => t > 0).map((t) => (
        <line key={'gy' + t} x1={PLOT.left} x2={PLOT.right} y1={y(t)} y2={y(t)} stroke="#222" strokeWidth={1} shapeRendering="crispEdges" />
      ))}
      {X_TICKS.filter((t) => t > 0).map((t) => (
        <line key={'gx' + t} x1={x(t)} x2={x(t)} y1={PLOT.top} y2={PLOT.bottom} stroke="#444" strokeWidth={1} shapeRendering="crispEdges" />
      ))}
      {/* plot border (top & right) */}
      <line x1={PLOT.left} x2={PLOT.right + 1} y1={PLOT.top} y2={PLOT.top} stroke="#9a9a9a" strokeWidth={2} />
      <line x1={PLOT.right + 1} x2={PLOT.right + 1} y1={PLOT.top} y2={PLOT.bottom} stroke="#9a9a9a" strokeWidth={2} />

      {/* series */}
      <g clipPath="url(#plotClip)" fill="none" strokeLinejoin="round" strokeLinecap="round">
        {SERIES_DATA.map((arr, i) => {
          const isLimit = SERIES_NAMES[i] === 'Limit';
          const gen = isLimit ? smoothLine : line;
          return (
            <path
              key={SERIES_NAMES[i]}
              d={gen(toPairs(arr)) || ''}
              stroke={SERIES_COLORS[i]}
              strokeWidth={isLimit ? 4.5 : 2}
            />
          );
        })}
      </g>

      {/* axes */}
      <line x1={PLOT.left} x2={PLOT.left} y1={PLOT.top} y2={PLOT.bottom} stroke="#000" strokeWidth={1.5} />
      <line x1={PLOT.left} x2={PLOT.right} y1={PLOT.bottom} y2={PLOT.bottom} stroke="#000" strokeWidth={1.5} />
      {Y_TICKS.map((t) => (
        <g key={'yt' + t}>
          <line x1={PLOT.left - 8} x2={PLOT.left} y1={y(t)} y2={y(t)} stroke="#000" strokeWidth={1} shapeRendering="crispEdges" />
          <text x={101} y={y(t)} dy="0.35em" textAnchor="end" fontSize={25} fill="#000">
            {t}
          </text>
        </g>
      ))}
      {X_TICKS.map((t) => (
        <g key={'xt' + t}>
          <line x1={x(t)} x2={x(t)} y1={PLOT.bottom} y2={PLOT.bottom + 8} stroke="#000" strokeWidth={1} shapeRendering="crispEdges" />
          <text x={x(t)} y={789} textAnchor="middle" fontSize={25} fill="#000">
            {t}
          </text>
        </g>
      ))}

      {/* axis titles */}
      <text x={684} y={837} textAnchor="middle" fontSize={29} fontWeight="bold" fill="#000">
        Frequency (MHz)
      </text>
      <text
        transform={`translate(38, ${(PLOT.top + PLOT.bottom) / 2}) rotate(-90)`}
        textAnchor="middle"
        fontSize={29}
        fontWeight="bold"
        fill="#000"
      >
        ACRF (dB)
      </text>

      {/* legend */}
      <rect x={legendX} y={legendY} width={legendW} height={legendH} fill="#fff" stroke="#000" strokeWidth={1} />
      {SERIES_NAMES.map((name, i) => {
        const cy = 160 + i * rowH;
        return (
          <g key={'lg' + name}>
            <line
              x1={1303}
              x2={1352}
              y1={cy}
              y2={cy}
              stroke={SERIES_COLORS[i]}
              strokeWidth={name === 'Limit' ? 4.5 : 2}
            />
            <text x={1358} y={cy} dy="0.35em" fontSize={25} fill="#000">
              {name}
            </text>
          </g>
        );
      })}
    </svg>
  );
}
